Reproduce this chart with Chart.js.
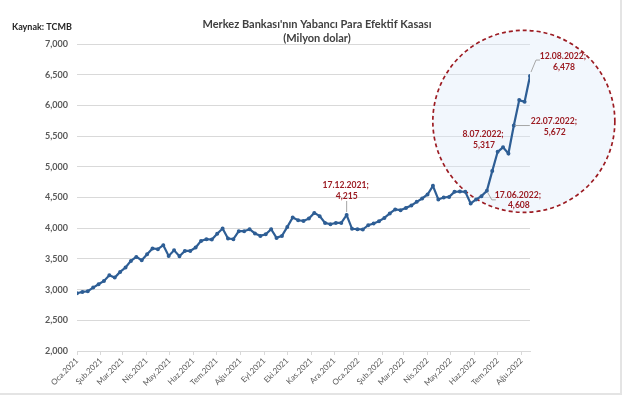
<!DOCTYPE html>
<html>
<head>
<meta charset="utf-8">
<script src="https://cdn.jsdelivr.net/npm/chart.js@4.4.0/dist/chart.umd.min.js"></script>
<style>
    html, body { margin: 0; padding: 0; background: #fff; }
    canvas { display: block; }
</style>
</head>
<body>
<canvas id="chart" width="635" height="399"></canvas>
<script>
// weekly (Friday) data, first week 1 Jan 2021, last 12 Aug 2022
const startYear = 2021;
const monthLabels = [
    'Oca.2021', 'Şub.2021', 'Mar.2021', 'Nis.2021', 'May.2021', 'Haz.2021', 'Tem.2021',
    'Ağu.2021', 'Eyl.2021', 'Eki.2021', 'Kas.2021', 'Ara.2021', 'Oca.2022', 'Şub.2022',
    'Mar.2022', 'Nis.2022', 'May.2022', 'Haz.2022', 'Tem.2022', 'Ağu.2022'
];
const weekValues = [
    2940, 2962, 2973, 3033, 3087, 3141, 3234, 3196, 3288, 3359,
    3467, 3532, 3478, 3576, 3669, 3658, 3723, 3549, 3641, 3544,
    3630, 3630, 3685, 3793, 3821, 3816, 3910, 3995, 3832, 3821,
    3951, 3951, 3984, 3914, 3875, 3902, 3984, 3842, 3875, 4021,
    4174, 4130, 4119, 4158, 4249, 4196, 4086, 4065, 4086, 4086,
    4215, 3990, 3984, 3979, 4049, 4077, 4114, 4168, 4240, 4305,
    4293, 4331, 4370, 4429, 4484, 4549, 4690, 4468, 4500, 4510,
    4592, 4598, 4592, 4403, 4468, 4522, 4608, 4930, 5244, 5317,
    5217, 5672, 6086, 6059, 6478
];
const calloutWeeks = [50, 76, 79, 81, 84];
const yTicks = [2000, 2500, 3000, 3500, 4000, 4500, 5000, 5500, 6000, 6500, 7000];

const title = ["Merkez Bankası'nın Yabancı Para Efektif Kasası", '(Milyon dolar)'];
const source = 'Kaynak: TCMB';

const DAY = 86400000;
const start = Date.UTC(startYear, 0, 1);
const monthDays = monthLabels.map((m, k) => (Date.UTC(startYear, k, 1) - start) / DAY);
const points = weekValues.map((v, i) => ({ x: i * 7, y: v }));
const lastDay = (weekValues.length - 1) * 7;

const fmt = v => v.toLocaleString('en-US');
function dateLabel(i) {
    const d = new Date(start + i * 7 * DAY);
    return d.getUTCDate() + '.' + String(d.getUTCMonth() + 1).padStart(2, '0') + '.' + d.getUTCFullYear() + ';';
}

// label offsets from the point: first line [dx, dy], leader path
const calloutPos = {
    50: { text: [-1, -29.5], leader: [[0, -3], [0, -14]] },
    76: { text: [31, 4], leader: [[1, 2], [5, 9], [9, 9]] },
    79: { text: [-20, -13], leader: null },
    81: { text: [40, -4], leader: [[1, 0], [16, 0]] },
    84: { text: [33, -20], leader: [[1, -4], [6, -16], [10, -16]] }
};

const red = '#9c1c23';
const grey = '#595959';

const decor = {
    id: 'decor',
    beforeDatasetsDraw(chart) {
        const { ctx, scales: { x, y } } = chart;
        const cx = x.getPixelForValue(580);
        const cy = y.getPixelForValue(5740);
        ctx.save();
        ctx.beginPath();
        ctx.arc(cx, cy, 91, 0, Math.PI * 2);
        ctx.fillStyle = 'rgba(222, 235, 250, 0.38)';
        ctx.fill();
        ctx.setLineDash([4, 3]);
        ctx.lineWidth = 1.7;
        ctx.strokeStyle = red;
        ctx.stroke();
        ctx.restore();
    },
    afterDatasetsDraw(chart) {
        const { ctx, scales: { x, y } } = chart;
        ctx.save();
        calloutWeeks.forEach(i => {
            const px = x.getPixelForValue(i * 7);
            const py = y.getPixelForValue(weekValues[i]);
            const p = calloutPos[i];
            if (p.leader) {
                ctx.beginPath();
                p.leader.forEach(([dx, dy], k) => {
                    if (k == 0) ctx.moveTo(px + dx, py + dy);
                    else ctx.lineTo(px + dx, py + dy);
                });
                ctx.strokeStyle = '#a6a6a6';
                ctx.lineWidth = 1;
                ctx.stroke();
            }
            ctx.fillStyle = red;
            ctx.font = 'bold 8.6px Lato';
            ctx.textAlign = 'center';
            ctx.textBaseline = 'middle';
            ctx.fillText(dateLabel(i), px + p.text[0], py + p.text[1]);
            ctx.fillText(fmt(weekValues[i]), px + p.text[0] + 1, py + p.text[1] + 10.7);
        });
        ctx.restore();
    },
    afterDraw(chart) {
        const ctx = chart.ctx;
        ctx.save();
        ctx.fillStyle = '#404040';
        ctx.font = 'bold 11px Lato';
        ctx.textAlign = 'center';
        ctx.textBaseline = 'middle';
        ctx.fillText(title[0], 317, 24);
        ctx.fillText(title[1], 317, 38);
        ctx.font = 'bold 9px Lato';
        ctx.textAlign = 'left';
        ctx.fillStyle = '#262626';
        ctx.fillText(source, 12, 27);
        // chart frame shadow
        ctx.strokeStyle = '#e4e4e4';
        ctx.lineWidth = 2;
        ctx.beginPath();
        ctx.moveTo(621, 0);
        ctx.lineTo(621, 394);
        ctx.lineTo(0, 394);
        ctx.stroke();
        ctx.restore();
    }
};

new Chart(document.getElementById('chart'), {
    type: 'line',
    data: {
        datasets: [{
            data: points,
            borderColor: '#2e5e95',
            backgroundColor: '#2e5e95',
            borderWidth: 2.2,
            pointRadius: 0.9,
            pointHoverRadius: 0,
            tension: 0
        }]
    },
    options: {
        responsive: false,
        animation: false,
        events: [],
        layout: { padding: { left: 0, top: 44, right: 105, bottom: 0 } },
        plugins: { legend: { display: false }, tooltip: { enabled: false } },
        scales: {
            x: {
                type: 'linear',
                min: 0,
                max: lastDay,
                afterBuildTicks: s => { s.ticks = monthDays.map(v => ({ value: v })); },
                afterFit: s => { s.height = 48; },
                ticks: {
                    autoSkip: false,
                    minRotation: 45,
                    maxRotation: 45,
                    padding: 1,
                    color: grey,
                    font: { family: 'Lato', size: 8 },
                    callback: (v, k) => monthLabels[k]
                },
                grid: { drawOnChartArea: false, drawTicks: true, tickLength: 4, color: '#d9d9d9' },
                border: { display: true, color: '#d9d9d9' }
            },
            y: {
                min: 2000,
                max: 7000,
                afterBuildTicks: s => { s.ticks = yTicks.map(v => ({ value: v })); },
                afterFit: s => { s.width = 77; },
                ticks: {
                    padding: 9,
                    color: grey,
                    font: { family: 'Lato', size: 9, weight: 'bold' },
                    callback: v => fmt(v)
                },
                grid: { color: '#d9d9d9', drawTicks: false },
                border: { display: false }
            }
        }
    },
    plugins: [decor]
});
</script>
</body>
</html>
